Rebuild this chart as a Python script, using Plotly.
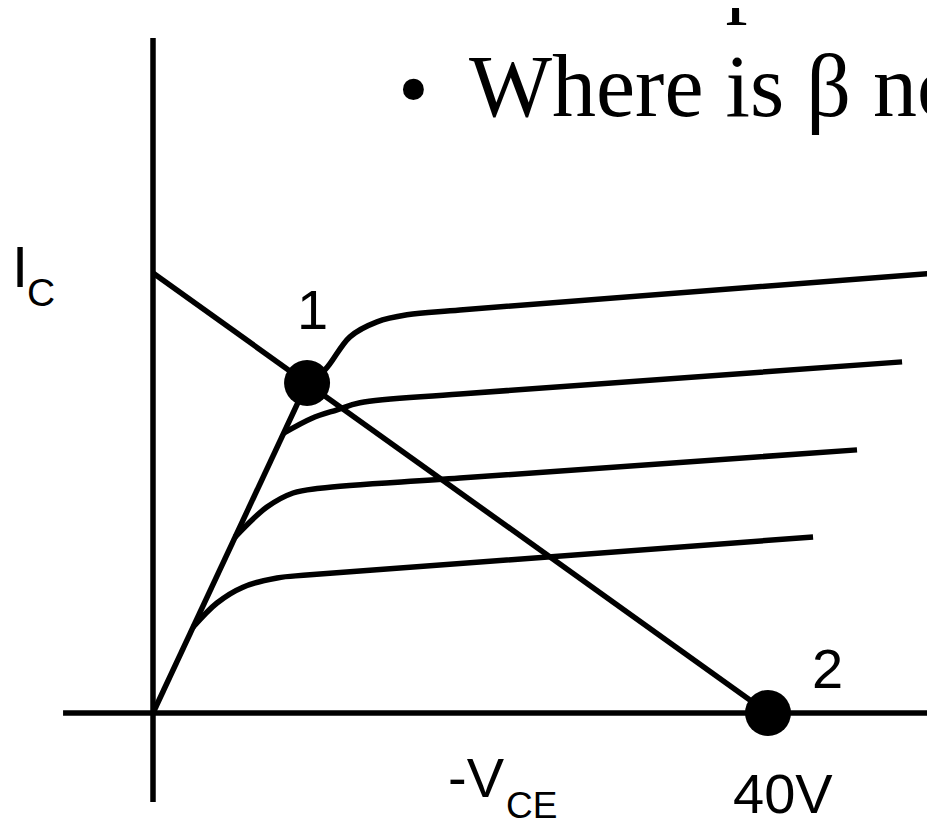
import plotly.graph_objects as go

# ---- data (volts, mA) ----
load_v = [0, 40]
load_i = [10, 0]

sat_v = [0, 10.02]
sat_i = [0, 7.5]

c1_v = [10.02, 11.19, 12.81, 14.57, 16.52, 19.97, 52.0]
c1_i = [7.50, 7.80, 8.55, 8.89, 9.05, 9.16, 10.03]
c2_v = [8.50, 10.34, 11.97, 13.46, 19.97, 48.72]
c2_i = [6.36, 6.70, 6.89, 7.05, 7.25, 7.98]
c3_v = [5.34, 7.41, 9.11, 10.86, 19.97, 45.79]
c3_i = [4.00, 4.68, 5.00, 5.11, 5.34, 5.98]
c4_v = [2.60, 4.16, 5.85, 8.07, 10.21, 42.93]
c4_i = [1.95, 2.50, 2.86, 3.07, 3.14, 4.00]

pts_v = [10.02, 40]
pts_i = [7.5, 0]
pts_lbl = ["1", "2"]

xaxis_line_v = [-5.85, 52]
yaxis_line_i = [-2.02, 15.34]

# page is drawn with an 8px body margin, ranges compensate for it
X_RANGE = [-145 / 15.375, (935 - 145) / 15.375]
Y_RANGE = [-(821 - 705) / 44, 705 / 44]

LW = 5.5
fig = go.Figure()

def line(x, y, shape="linear"):
    fig.add_trace(go.Scatter(x=x, y=y, mode="lines",
                             line=dict(color="black", width=LW, shape=shape),
                             hoverinfo="skip"))

# axes
line(xaxis_line_v, [0, 0])
line([0, 0], yaxis_line_i)
# load line
line(load_v, load_i)
# saturation line
line(sat_v, sat_i)
# characteristic curves
for vv, ii in [(c1_v, c1_i), (c2_v, c2_i), (c3_v, c3_i), (c4_v, c4_i)]:
    line(vv, ii, "spline")
# operating points
fig.add_trace(go.Scatter(x=pts_v, y=pts_i, mode="markers",
                         marker=dict(color="black", size=46, line=dict(width=0)),
                         hoverinfo="skip"))

sans = "Liberation Sans, Arial, sans-serif"
serif = "Liberation Serif, Times New Roman, serif"

def vx(px):
    return (px - 153) / 15.375

def iy(py):
    return (713 - py) / 44

def px_paper(px):
    return (px - 8) / 935

def py_paper(py):
    return 1 - (py - 8) / 821

ann = []
def txt(x, y, t, size, family=sans, xanchor="center", xref="x", yref="y"):
    ann.append(dict(x=x, y=y, text=t, xref=xref, yref=yref, showarrow=False,
                    xanchor=xanchor, yanchor="middle",
                    font=dict(family=family, size=size, color="black")))

txt(vx(312), iy(309.5), pts_lbl[0], 56)
txt(vx(827.5), iy(668), pts_lbl[1], 56)
txt(vx(783), iy(793), "40V", 56)
txt(vx(476), iy(777.5), "-V", 56)
txt(vx(531), iy(805), "CE", 37)
txt(vx(19.5), iy(266.5), "I", 58)
txt(vx(41), iy(292.5), "C", 39)

# slide text (cropped)
txt(px_paper(467), py_paper(-23), "Which point is saturation?", 88, serif, "left", "paper", "paper")
txt(px_paper(413), py_paper(89), "•", 88, serif, "center", "paper", "paper")
txt(px_paper(467), py_paper(87), "Where is β not valid?", 88, serif, "left", "paper", "paper")

fig.update_layout(
    width=935, height=821,
    margin=dict(l=0, r=0, t=0, b=0),
    paper_bgcolor="white", plot_bgcolor="white",
    showlegend=False,
    xaxis=dict(range=X_RANGE, visible=False, fixedrange=True),
    yaxis=dict(range=Y_RANGE, visible=False, fixedrange=True),
    annotations=ann,
)

fig.write_html("out.html")
